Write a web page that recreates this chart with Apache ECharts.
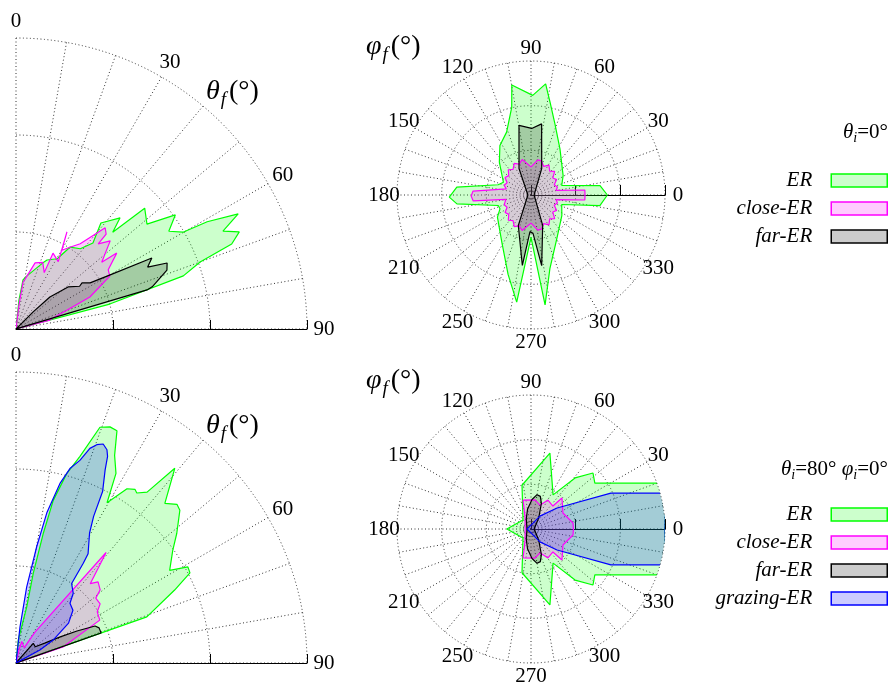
<!DOCTYPE html>
<html><head><meta charset="utf-8">
<script src="https://cdn.jsdelivr.net/npm/echarts@6/dist/echarts.min.js"></script>
<style>html,body{margin:0;padding:0;background:#fff}#c{width:891px;height:684px}</style>
</head><body><div id="c"></div>
<script>
// ---------- tick labels ----------
const thetaTickValues = [0, 30, 60, 90];
const thetaTickLabels = ['0', '30', '60', '90'];
const phiTickValues = [0, 30, 60, 90, 120, 150, 180, 210, 240, 270, 300, 330];
const phiTickLabels = ['0', '30', '60', '90', '120', '150', '180', '210', '250', '270', '300', '330'];
const seriesNames = ['ER', 'close-ER', 'far-ER', 'grazing-ER'];

// ---------- top row (theta_i = 0) : theta_f distribution ----------
const t0_ER_theta = [5.9, 5.9, 8.1, 10.9, 22.7, 24.2, 30.4, 33.4, 38.7, 41.8, 38.7, 43.1, 45.0, 46.8, 51.3, 54.4, 57.4, 59.9, 60.7, 62.6, 64.7, 66.5, 68.5, 70.0, 72.4, 75.1, 75.1];
const t0_ER_r     = [0, 0.30, 0.51, 0.55, 0.75, 0.78, 0.84, 1.01, 1.06, 1.19, 1.40, 1.57, 1.41, 1.82, 1.73, 2.02, 1.87, 1.99, 2.26, 2.58, 2.36, 2.51, 2.39, 2.02, 1.81, 1.00, 0];
const t0_close_theta = [7.1, 7.1, 8.5, 10.2, 16.1, 21.9, 26.6, 26.0, 32.1, 27.7, 30.2, 33.4, 37.0, 41.4, 43.5, 44.0, 46.9, 52.1, 53.0, 57.3, 60.6, 66.6, 75.2, 75.2];
const t0_close_r     = [0, 0.25, 0.49, 0.52, 0.71, 0.74, 0.65, 0.87, 0.82, 1.13, 0.94, 1.01, 1.10, 1.39, 1.35, 1.22, 1.33, 1.12, 1.30, 1.13, 1.11, 0.83, 0.36, 0];
const t0_far_theta = [45, 45, 46.7, 51.1, 56.1, 55.1, 58.1, 60.1, 62.4, 64.8, 66.4, 68.7, 72.8, 73.4, 73.4];
const t0_far_r     = [0, 0.25, 0.48, 0.69, 0.79, 0.83, 0.90, 1.12, 1.58, 1.50, 1.70, 1.67, 1.47, 1.41, 0];

// ---------- top row : phi_f distribution ----------
const p0_ER_phi = [0, 7.8, 17.2, 31.1, 57.9, 71.2, 78.4, 82.5, 89, 99.9, 102.4, 111.2, 122.1, 134, 155.2, 162.7, 174, 181.5, 186.8, 197.8, 204, 213.4, 238.2, 253.9, 262.4, 270, 277.3, 284.4, 300.4, 326.3, 342.8, 351.3, 360];
const p0_ER_r   = [1.71, 1.56, 0.72, 0.84, 1.22, 1.67, 2.12, 2.51, 2.23, 2.50, 2.01, 1.51, 1.31, 1.02, 0.68, 0.77, 1.67, 1.83, 1.67, 0.77, 0.76, 0.90, 1.24, 1.85, 2.42, 0.95, 2.48, 1.70, 1.14, 0.83, 0.72, 1.56, 1.71];
const p0_close_phi = [0, 5.3, 10.5,
  17, 24, 31, 38, 45, 52, 59, 66, 73, 79, 90, 104, 111, 118, 125, 132, 139, 146, 153, 160, 166,
  170, 176.1, 181, 185.9, 190,
  194, 200, 207, 214, 221, 228, 235, 242, 249, 256, 270, 281, 287, 294, 301, 308, 315, 322, 329, 336, 343,
  349.5, 354.7, 360];
const p0_close_r   = [1.21, 1.21, 0.57,
  0.62, 0.57, 0.67, 0.62, 0.75, 0.68, 0.78, 0.70, 0.80, 0.80, 0.63, 0.82, 0.74, 0.80, 0.70, 0.76, 0.66, 0.70, 0.60, 0.64, 0.57,
  0.57, 1.30, 1.34, 1.30, 0.57,
  0.57, 0.64, 0.60, 0.70, 0.66, 0.76, 0.70, 0.80, 0.74, 0.82, 0.63, 0.80, 0.80, 0.70, 0.78, 0.68, 0.75, 0.62, 0.67, 0.57, 0.62,
  0.57, 1.21, 1.21];
const p0_far_phi = [0, 68, 81.5, 89.4, 99.8, 114.4, 180, 247.4, 263, 268.4, 273, 278.6, 291, 360];
const p0_far_r   = [0.07, 0.64, 1.61, 1.49, 1.58, 0.65, 0.07, 0.74, 1.59, 0.82, 0.86, 1.60, 0.73, 0.07];

// ---------- bottom row (theta_i = 80, phi_i = 0) : theta_f distribution ----------
const t80_ER_theta = [5.7, 5.7, 10.8, 10.9, 11.9, 12.9, 15.0, 17.2, 19.6, 21.7, 23.5, 25.4, 27.8, 29.6, 32.5, 34.4, 35.4, 37.5, 39.2, 43.0, 45.4, 47.0, 51.1, 54.3, 58.9, 60.8, 62.6, 65.3, 70.6, 70.6];
const t80_ER_r     = [0, 0.24, 0.59, 0.94, 1.37, 1.72, 2.02, 2.23, 2.58, 2.62, 2.61, 2.37, 2.21, 1.90, 2.13, 2.17, 2.15, 2.22, 2.59, 2.25, 2.33, 2.31, 2.13, 1.99, 1.85, 2.03, 2.02, 1.80, 1.43, 0];
const t80_close_theta = [13, 13, 15.0, 28.1, 31.5, 39.2, 43.1, 45.3, 49.0, 50.9, 54.9, 57.8, 62.9, 71.0, 71.0];
const t80_close_r     = [0, 0.14, 0.23, 0.18, 0.37, 1.47, 1.12, 1.19, 1.15, 1.06, 1.06, 0.99, 0.97, 0.52, 0];
const t80_far_theta = [41.3, 41.3, 49.9, 55.4, 59.4, 62.3, 64.9, 64.9, 67.1, 70.6, 70.6];
const t80_far_r     = [0, 0.27, 0.26, 0.36, 0.53, 0.71, 0.90, 0.92, 0.93, 0.93, 0];
const t80_graz_theta = [6.3, 6.3, 8.0, 10.1, 11.6, 13.8, 15.5, 17.5, 19.0, 20.3, 21.7, 23.1, 23.9, 24.8, 26.8, 27.9, 29.5, 33.4, 34.0, 35.0, 39.4, 42.1, 47.2, 52.8, 58.3, 61.6, 61.6];
const t80_graz_r     = [0, 0.37, 0.79, 1.22, 1.58, 1.91, 2.08, 2.19, 2.34, 2.40, 2.43, 2.39, 2.33, 2.19, 1.98, 1.71, 1.54, 1.35, 1.24, 1.00, 0.93, 0.83, 0.80, 0.68, 0.45, 0.28, 0];

// ---------- bottom row : phi_f distribution ----------
const p80_ER_phi = [0, 18.9, 35.7, 42.1, 49.2, 57.1, 76.0, 101.6, 131.6, 180, 228.4, 258.4, 284.0, 302.9, 310.8, 317.9, 324.3, 341.1, 360];
const p80_ER_r   = [3.0, 3.17, 1.76, 1.87, 1.51, 0.91, 1.75, 1.00, 0.27, 0.54, 0.27, 1.00, 1.75, 0.91, 1.51, 1.87, 1.76, 3.17, 3.0];
const p80_close_phi = [0, 8.1, 26.6, 45, 46.3, 59.6, 69.4, 82.1, 105.4, 116.6, 180, 243.4, 254.6, 277.9, 290.6, 300.4, 313.7, 315, 333.4, 351.9, 360];
const p80_close_r   = [0.95, 0.95, 0.80, 0.98, 0.71, 0.75, 0.57, 0.66, 0.67, 0.30, 0.13, 0.30, 0.67, 0.66, 0.57, 0.75, 0.71, 0.98, 0.80, 0.95, 0.95];
const p80_far_phi = [0, 55, 68, 74, 80, 88, 100, 115, 180, 245, 260, 272, 280, 286, 292, 305, 360];
const p80_far_r   = [0.07, 0.30, 0.62, 0.76, 0.78, 0.66, 0.45, 0.25, 0.09, 0.25, 0.45, 0.66, 0.78, 0.76, 0.62, 0.30, 0.07];
const p80_graz_phi = [0, 15.0, 24.2, 38.9, 55.3, 71.6, 180, 288.4, 304.7, 321.1, 335.8, 345.0, 360];
const p80_graz_r   = [3.0, 3.10, 1.96, 0.75, 0.35, 0.14, 0.09, 0.14, 0.35, 0.75, 1.96, 3.10, 3.0];

// ---------- styling ----------
const F = '"Liberation Serif", "DejaVu Serif", serif';
const COL = { 'ER': '#00ff00', 'close-ER': '#ff00ff', 'far-ER': '#000000', 'grazing-ER': '#0000ff' };
const FILL = { 'ER': 'rgba(0,255,0,0.2)', 'close-ER': 'rgba(255,0,255,0.2)', 'far-ER': 'rgba(0,0,0,0.2)', 'grazing-ER': 'rgba(0,0,255,0.2)' };
const gridLine = { show: true, lineStyle: { color: '#333', width: 1, type: [1, 2.5] } };
const LABEL_FS = 21;

const chart = echarts.init(document.getElementById('c'), null, { renderer: 'canvas' });

function mk(name, polarIndex, ang, rad) {
  return {
    type: 'line', name: name, coordinateSystem: 'polar', polarIndex: polarIndex,
    data: ang.map((a, i) => [rad[i], a]),
    symbol: 'none', showSymbol: false, clip: false, smooth: false,
    lineStyle: { color: COL[name], width: 1.2 },
    itemStyle: { color: COL[name] },
    areaStyle: { color: FILL[name], opacity: 1 },
    silent: true, animation: false
  };
}

// gnuplot centres its polar tick labels on a circle of radius D; emulate that with per-label padding.
// (vertical token padding only moves the text by half its size, hence the factor 2)
function makeLabelRich(values, labels, toMath, R, D, m) {
  const rich = {};
  values.forEach((v, i) => {
    const a = toMath(v) * Math.PI / 180;
    const c = Math.cos(a), s = Math.sin(a);
    const w = labels[i].length * LABEL_FS * 0.5, h = LABEL_FS;
    const k = D - R - m, q = (R + m) / R;
    let pl = 0, pr = 0, pt = 0, pb = 0;
    if (Math.abs(c) * q < 0.3) { const d = k * c; if (d > 0) pl = 2 * d; else pr = -2 * d; }
    else { const p = Math.max(0, k * Math.abs(c) - w / 2); if (c > 0) pl = p; else pr = p; }
    if (Math.abs(s) * q >= 0.3) {
      const p = 2 * Math.max(0, k * Math.abs(s) - h / 2);
      if (s > 0) pb = p; else pt = p;
    }
    rich['t' + i] = { padding: [pt, pr, pb, pl], fontFamily: F, fontSize: LABEL_FS, lineHeight: LABEL_FS, color: '#000' };
  });
  return rich;
}

const centers = { TL: [16, 329], TR: [531, 195], BL: [16, 663], BR: [531, 529] };
const polar = [
  { center: centers.TL, radius: 291 }, // 0
  { center: centers.TR, radius: 134 }, // 1
  { center: centers.BL, radius: 291 }, // 2
  { center: centers.BR, radius: 134 }, // 3
  { center: centers.TL, radius: 291 }, // 4 baseline (ticks one side)
  { center: centers.TL, radius: 291 }, // 5 baseline (ticks other side)
  { center: centers.BL, radius: 291 }, // 6
  { center: centers.BL, radius: 291 }, // 7
  { center: centers.TR, radius: 134 }, // 8 ticks other side
  { center: centers.BR, radius: 134 }  // 9
];

const hidden = { show: false };
const TH_M = -8, PH_M = -20;
const thetaRich = makeLabelRich(thetaTickValues, thetaTickLabels, v => 90 - v, 291, 308, TH_M);
const phiRich = makeLabelRich(phiTickValues, phiTickLabels, v => v, 134, 147, PH_M);

function thetaAngleAxis(pi) {
  return {
    polarIndex: pi, type: 'value', min: 0, max: 90, interval: 10,
    startAngle: 90, endAngle: 0, clockwise: true,
    axisLine: hidden, axisTick: hidden,
    axisLabel: {
      margin: TH_M, fontFamily: F, fontSize: LABEL_FS, color: '#000',
      formatter: v => { const i = thetaTickValues.indexOf(v); return i < 0 ? '' : '{t' + i + '|' + thetaTickLabels[i] + '}'; },
      rich: thetaRich
    },
    splitLine: gridLine
  };
}
function phiAngleAxis(pi) {
  return {
    polarIndex: pi, type: 'value', min: 0, max: 360, interval: 10,
    startAngle: 0, clockwise: false,
    axisLine: hidden, axisTick: hidden,
    axisLabel: {
      margin: PH_M, fontFamily: F, fontSize: LABEL_FS, color: '#000',
      formatter: v => { const i = phiTickValues.indexOf(v); return i < 0 ? '' : '{t' + i + '|' + phiTickLabels[i] + '}'; },
      rich: phiRich
    },
    splitLine: gridLine
  };
}
function hiddenAngle(pi, full) {
  const a = { polarIndex: pi, type: 'value', axisLine: hidden, axisTick: hidden, axisLabel: hidden, splitLine: hidden };
  if (full) { a.min = 0; a.max = 360; a.startAngle = 0; a.clockwise = false; }
  else { a.min = 0; a.max = 90; a.startAngle = 0; a.endAngle = 90; a.clockwise = false; }
  return a;
}
function radAxis(pi, opts) {
  return Object.assign({
    polarIndex: pi, type: 'value', min: 0, max: 3, interval: 1,
    axisLine: hidden, axisTick: hidden, axisLabel: hidden, splitLine: hidden
  }, opts);
}
const axLine = { show: true, lineStyle: { color: '#000', width: 1 } };
const tick = (len, inside) => ({ show: true, inside: inside, length: len, lineStyle: { color: '#000' } });

const angleAxis = [
  thetaAngleAxis(0), phiAngleAxis(1), thetaAngleAxis(2), phiAngleAxis(3),
  hiddenAngle(4, false), hiddenAngle(5, false), hiddenAngle(6, false), hiddenAngle(7, false),
  hiddenAngle(8, true), hiddenAngle(9, true)
];
const radiusAxis = [
  radAxis(0, { splitLine: gridLine }),
  radAxis(1, { splitLine: gridLine, axisLine: axLine, axisTick: tick(10, false) }),
  radAxis(2, { splitLine: gridLine }),
  radAxis(3, { splitLine: gridLine, axisLine: axLine, axisTick: tick(10, false) }),
  radAxis(4, { axisLine: axLine, axisTick: tick(9, false) }),
  radAxis(5, { axisTick: tick(9, true) }),
  radAxis(6, { axisLine: axLine, axisTick: tick(9, false) }),
  radAxis(7, { axisTick: tick(9, true) }),
  radAxis(8, { axisTick: tick(10, true) }),
  radAxis(9, { axisTick: tick(10, true) })
];

const series = [
  mk('ER', 0, t0_ER_theta, t0_ER_r),
  mk('close-ER', 0, t0_close_theta, t0_close_r),
  mk('far-ER', 0, t0_far_theta, t0_far_r),
  mk('ER', 1, p0_ER_phi, p0_ER_r),
  mk('close-ER', 1, p0_close_phi, p0_close_r),
  mk('far-ER', 1, p0_far_phi, p0_far_r),
  mk('ER', 2, t80_ER_theta, t80_ER_r),
  mk('close-ER', 2, t80_close_theta, t80_close_r),
  mk('far-ER', 2, t80_far_theta, t80_far_r),
  mk('grazing-ER', 2, t80_graz_theta, t80_graz_r),
  mk('ER', 3, p80_ER_phi, p80_ER_r),
  mk('close-ER', 3, p80_close_phi, p80_close_r),
  mk('far-ER', 3, p80_far_phi, p80_far_r),
  mk('grazing-ER', 3, p80_graz_phi, p80_graz_r)
];

function legendOf(names, top) {
  return {
    orient: 'vertical', right: 3, top: top, padding: 0,
    itemWidth: 56, itemHeight: 13, itemGap: 7, align: 'right', selectedMode: false,
    textStyle: { fontFamily: F, fontStyle: 'italic', fontSize: 21, color: '#000', padding: [0, 14, 0, 0] },
    data: names.map(n => ({ name: n, icon: 'rect', itemStyle: { color: FILL[n], borderColor: COL[n], borderWidth: 1.5 } }))
  };
}

const richBig = {
  a: { fontFamily: F, fontStyle: 'italic', fontSize: 28, lineHeight: 34, color: '#000' },
  s: { fontFamily: F, fontStyle: 'italic', fontSize: 19, lineHeight: 24, verticalAlign: 'bottom', color: '#000', padding: [0, 3, 0, 1] },
  b: { fontFamily: F, fontSize: 28, lineHeight: 34, color: '#000' }
};
const richSmall = {
  a: { fontFamily: F, fontStyle: 'italic', fontSize: 21, lineHeight: 26, color: '#000' },
  s: { fontFamily: F, fontStyle: 'italic', fontSize: 14, lineHeight: 16, verticalAlign: 'bottom', color: '#000' },
  b: { fontFamily: F, fontSize: 21, lineHeight: 26, color: '#000' }
};

const graphic = [
  { type: 'text', left: 206, top: 78, style: { text: '{a|θ}{s|f}{b|(°)}', rich: richBig } },
  { type: 'text', left: 366, top: 33, style: { text: '{a|φ}{s|f}{b|(°)}', rich: richBig } },
  { type: 'text', left: 206, top: 412, style: { text: '{a|θ}{s|f}{b|(°)}', rich: richBig } },
  { type: 'text', left: 366, top: 367, style: { text: '{a|φ}{s|f}{b|(°)}', rich: richBig } },
  { type: 'text', right: 3, top: 122, style: { text: '{a|θ}{s|i}{b|=0°}', rich: richSmall } },
  { type: 'text', right: 3, top: 459, style: { text: '{a|θ}{s|i}{b|=80° }{a|φ}{s|i}{b|=0°}', rich: richSmall } }
];

chart.setOption({
  animation: false,
  backgroundColor: '#fff',
  polar: polar,
  angleAxis: angleAxis,
  radiusAxis: radiusAxis,
  legend: [legendOf(seriesNames.slice(0, 3), 170), legendOf(seriesNames, 504)],
  graphic: graphic,
  series: series
});
</script></body></html>
